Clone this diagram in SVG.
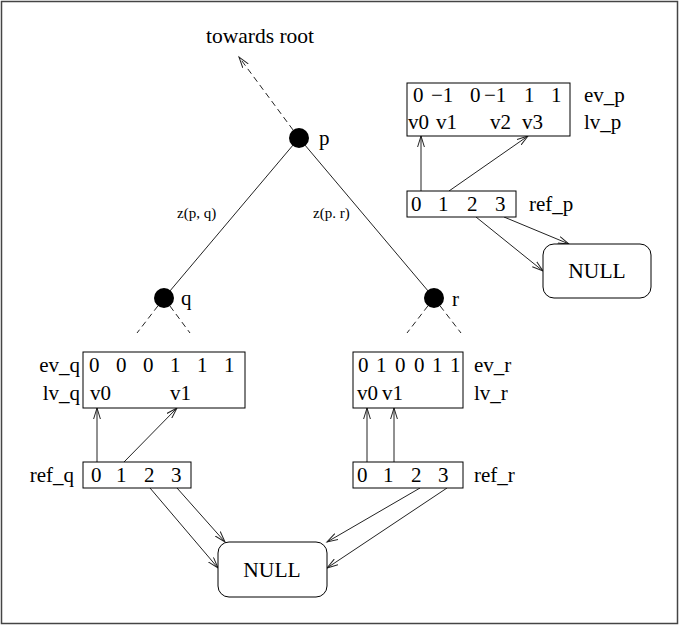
<svg xmlns="http://www.w3.org/2000/svg" width="680" height="626" viewBox="0 0 680 626">
<style>
text{font-family:"Liberation Serif","Times New Roman",serif;font-size:21px;fill:#000}
.small{font-size:15px}
.big{font-size:21.5px}
.box{fill:#fff;stroke:#000;stroke-width:1}
.ln{stroke:#222;stroke-width:1;fill:none}
.arr{stroke:#222;stroke-width:1;fill:none;marker-end:url(#ah)}
.dash{stroke:#222;stroke-width:1;fill:none;stroke-dasharray:6 4}
.dot{fill:#000}
</style>
<defs>
<marker id="ah" markerUnits="userSpaceOnUse" markerWidth="13" markerHeight="8" refX="11" refY="4" orient="auto">
<path d="M0,0.6 L11,4 L0,7.4" fill="none" stroke="#222" stroke-width="1"/>
</marker>
</defs>
<rect x="1.5" y="1.5" width="676" height="622" fill="#fff" stroke="#444" stroke-width="1.5"/>

<g id="connectors">
<line class="dash" x1="299" y1="138" x2="239" y2="57" marker-end="url(#ah)"/>
<line class="ln" x1="299" y1="138" x2="164" y2="298"/>
<line class="ln" x1="299" y1="138" x2="434" y2="298"/>
<line class="dash" x1="164" y1="298" x2="137" y2="333"/>
<line class="dash" x1="164" y1="298" x2="190" y2="333"/>
<line class="dash" x1="434" y1="298" x2="407" y2="333"/>
<line class="dash" x1="434" y1="298" x2="461" y2="333"/>
<line class="arr" x1="421" y1="191" x2="421" y2="136"/>
<line class="arr" x1="449" y1="191" x2="528" y2="136"/>
<line class="arr" x1="476" y1="217" x2="543" y2="271"/>
<line class="arr" x1="504" y1="217" x2="569" y2="244"/>
<line class="arr" x1="97" y1="462" x2="97" y2="408"/>
<line class="arr" x1="124" y1="462" x2="177" y2="408"/>
<line class="arr" x1="150" y1="488" x2="218" y2="568"/>
<line class="arr" x1="177" y1="488" x2="225" y2="542"/>
<line class="arr" x1="367" y1="462" x2="367" y2="408"/>
<line class="arr" x1="394" y1="462" x2="394" y2="408"/>
<line class="arr" x1="420" y1="488" x2="327" y2="542"/>
<line class="arr" x1="447" y1="488" x2="327" y2="568"/>
</g>

<text x="206" y="43" class="big">towards root</text>
<text x="177" y="218" class="small">z(p, q)</text>
<text x="313" y="218" class="small">z(p. r)</text>

<g id="node-p">
<circle class="dot" cx="299" cy="138" r="10"/>
<text x="319" y="145">p</text>
</g>
<g id="node-q">
<circle class="dot" cx="164" cy="298" r="10"/>
<text x="181" y="305">q</text>
</g>
<g id="node-r">
<circle class="dot" cx="434" cy="298" r="10"/>
<text x="452" y="306">r</text>
</g>

<g id="ev-p">
<rect class="box" x="407" y="83" width="163" height="53"/>
<text y="102"><tspan x="413">0</tspan><tspan x="431">−1</tspan><tspan x="470">0</tspan><tspan x="484">−1</tspan><tspan x="524">1</tspan><tspan x="551">1</tspan></text>
<text y="129"><tspan x="408">v0</tspan><tspan x="436">v1</tspan><tspan x="490">v2</tspan><tspan x="522">v3</tspan></text>
<text x="584" y="102">ev_p</text>
<text x="584" y="129">lv_p</text>
</g>
<g id="ref-p">
<rect class="box" x="407" y="191" width="109" height="26"/>
<text y="211"><tspan x="411">0</tspan><tspan x="438">1</tspan><tspan x="467">2</tspan><tspan x="495">3</tspan></text>
<text x="529" y="211">ref_p</text>
</g>
<g id="null-p">
<rect class="box" x="543" y="244" width="108" height="54" rx="11" ry="11"/>
<text x="597" y="278" class="big" text-anchor="middle">NULL</text>
</g>

<g id="ev-q">
<rect class="box" x="83" y="352" width="162" height="56"/>
<text y="372"><tspan x="89">0</tspan><tspan x="116">0</tspan><tspan x="143">0</tspan><tspan x="170">1</tspan><tspan x="197">1</tspan><tspan x="224">1</tspan></text>
<text y="400"><tspan x="90">v0</tspan><tspan x="170">v1</tspan></text>
<text x="80" y="372" text-anchor="end">ev_q</text>
<text x="80" y="400" text-anchor="end">lv_q</text>
</g>
<g id="ref-q">
<rect class="box" x="83" y="462" width="108" height="26"/>
<text y="482"><tspan x="91">0</tspan><tspan x="116">1</tspan><tspan x="144">2</tspan><tspan x="171">3</tspan></text>
<text x="74" y="482" text-anchor="end">ref_q</text>
</g>

<g id="ev-r">
<rect class="box" x="353" y="352" width="110" height="56"/>
<text y="372"><tspan x="358">0</tspan><tspan x="376">1</tspan><tspan x="395">0</tspan><tspan x="414">0</tspan><tspan x="432">1</tspan><tspan x="450">1</tspan></text>
<text y="400"><tspan x="357">v0</tspan><tspan x="382">v1</tspan></text>
<text x="474" y="372">ev_r</text>
<text x="474" y="400">lv_r</text>
</g>
<g id="ref-r">
<rect class="box" x="353" y="462" width="110" height="26"/>
<text y="482"><tspan x="357">0</tspan><tspan x="383">1</tspan><tspan x="411">2</tspan><tspan x="438">3</tspan></text>
<text x="474" y="482">ref_r</text>
</g>

<g id="null-q">
<rect class="box" x="218" y="542" width="109" height="55" rx="11" ry="11"/>
<text x="272" y="577" class="big" text-anchor="middle">NULL</text>
</g>
</svg>
